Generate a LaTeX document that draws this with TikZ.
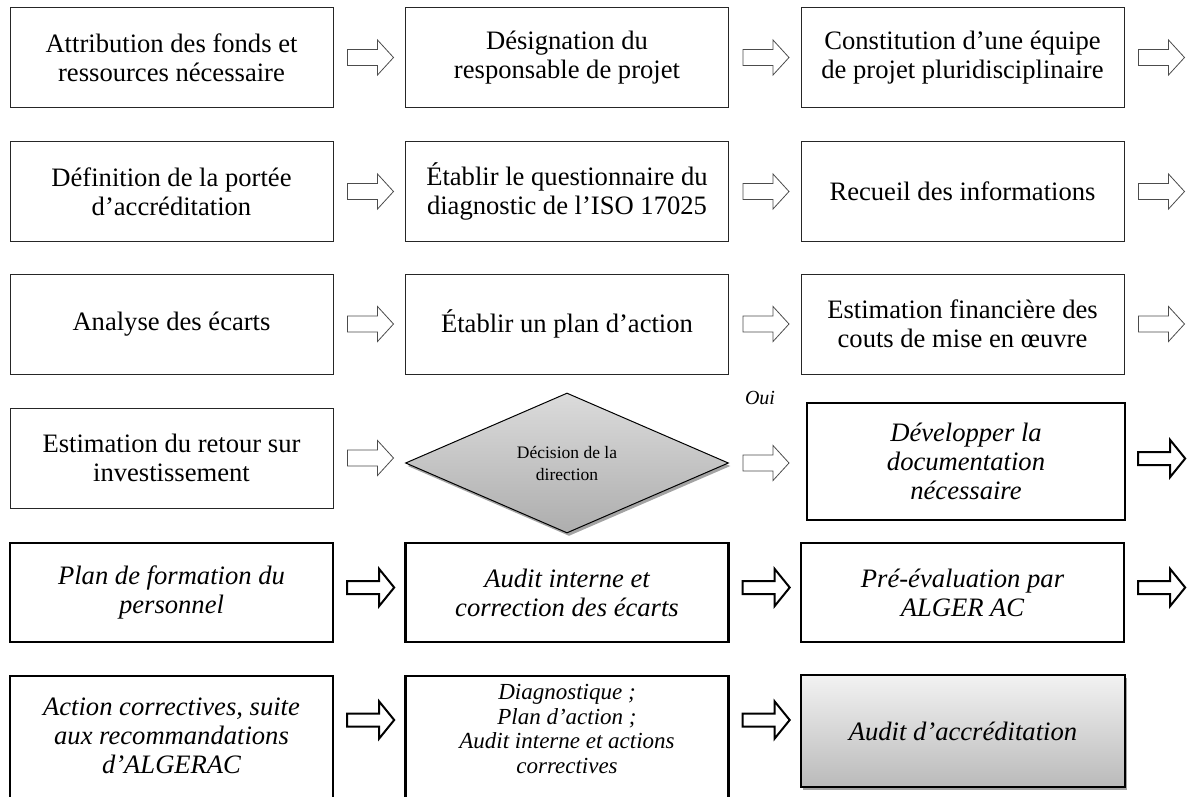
\documentclass[tikz,border=0pt]{standalone}
\usepackage{fontspec}
\setmainfont{Liberation Serif}
\usetikzlibrary{shapes.geometric,shadows,calc}

\tikzset{
  bigfont/.style={font=\fontsize{26.6}{29}\selectfont},
  bigital/.style={font=\fontsize{26.6}{29}\selectfont\itshape},
  smallfont/.style={font=\fontsize{17.5}{22}\selectfont},
  tbox/.style={draw=black!85, line width=1pt, rectangle, minimum width=323pt,
    minimum height=100pt, inner sep=2pt, align=center, bigfont},
  kbox/.style={draw=black, line width=2.4pt, rectangle, minimum width=323pt,
    minimum height=99pt, inner sep=2pt, align=center, bigital},
  finalbox/.style={kbox, line width=1.8pt, top color=black!5, bottom color=black!27,
    drop shadow={shadow xshift=2pt, shadow yshift=-3pt, fill=black!45, opacity=0.8}},
  decision/.style={diamond, draw=black, line width=1pt, aspect=2.3,
    minimum width=323pt, minimum height=140pt, inner sep=0pt, align=center,
    top color=black!14, bottom color=black!32, smallfont,
    drop shadow={shadow xshift=2pt, shadow yshift=-3pt, fill=black!45, opacity=0.8}},
  pics/thinarrow/.style={code={
    \draw[draw=black!70, line width=0.8pt, fill=white, line join=miter]
      (0,-8) -- (30,-8) -- (30,-17.5) -- (46,0) -- (30,17.5) -- (30,8) -- (0,8) -- cycle;}},
  pics/thickarrow/.style={code={
    \draw[draw=black, line width=2pt, fill=white, line join=miter]
      (0,-6.5) -- (32,-6.5) -- (32,-18.5) -- (47,0) -- (32,18.5) -- (32,6.5) -- (0,6.5) -- cycle;}}
}

\begin{document}
\begin{tikzpicture}[x=1pt,y=-1pt]
  \useasboundingbox (0,0) rectangle (1195,796);
  \clip (0,0) rectangle (1195,796);

  % row 1
  \node[tbox] (a1) at (171.5,57.5) {Attribution des fonds et\\ressources nécessaire};
  \node[tbox] (a2) at (567,57.5) {Désignation du\\responsable de projet};
  \node[tbox] (a3) at (962.5,57.5) {Constitution d’une équipe\\de projet pluridisciplinaire};

  % row 2
  \node[tbox] (b1) at (171.5,191.5) {Définition de la portée\\d’accréditation};
  \node[tbox] (b2) at (567,191.5) {Établir le questionnaire du\\diagnostic de l’ISO 17025};
  \node[tbox] (b3) at (962.5,191.5) {Recueil des informations};

  % row 3
  \node[tbox] (c1) at (171.5,324) {Analyse des écarts};
  \node[tbox] (c2) at (567,324) {Établir un plan d’action};
  \node[tbox] (c3) at (962.5,324) {Estimation financière des\\couts de mise en œuvre};

  % row 4
  \node[tbox] (d1) at (171.5,458) {Estimation du retour sur\\investissement};
  \node[decision] (d2) at (567,463) {Décision de la\\direction};
  \node[kbox, minimum width=318pt, minimum height=117pt] (d3) at (966,461.5)
    {Développer la\\documentation\\nécessaire};
  \node[font=\fontsize{20}{22}\selectfont\itshape] (oui) at (760,398) {Oui};

  % row 5
  \node[kbox] (e1) at (171.5,592.5) {Plan de formation du\\personnel};
  \node[kbox] (e2) at (567,592.5) {Audit interne et\\correction des écarts};
  \node[kbox] (e3) at (962.5,592.5) {Pré-évaluation par\\ALGER AC};

  % row 6
  \node[kbox, minimum height=135pt, anchor=north] (f1) at (171.5,675) {};
  \node[align=center, bigital] (f1t) at (171.5,736) {Action correctives, suite\\aux recommandations\\d’ALGERAC};
  \node[kbox, minimum height=135pt, anchor=north] (f2) at (567,675) {};
  \node[align=center, font=\fontsize{23}{24.5}\selectfont\itshape] (f2t) at (567,729)
    {Diagnostique ;\\Plan d’action ;\\Audit interne et actions\\correctives};
  \node[finalbox, minimum width=324pt, minimum height=112pt] (f3) at (963,731) {Audit d’accréditation};

  % block arrows between the steps
  \foreach \n in {a1,a2,a3,b1,b2,b3,c1,c2,c3,d1,d2}
    \path (\n.east) ++(14,0) pic {thinarrow};
  \path (d3.east) ++(12,-3) pic {thickarrow};
  \foreach \n in {e1,e2,e3}
    \path (\n.east) ++(13,-5) pic {thickarrow};
  \path (f1.east |- f3.west) ++(13,-11) pic {thickarrow};
  \path (f2.east |- f3.west) ++(13,-11) pic {thickarrow};
\end{tikzpicture}
\end{document}
